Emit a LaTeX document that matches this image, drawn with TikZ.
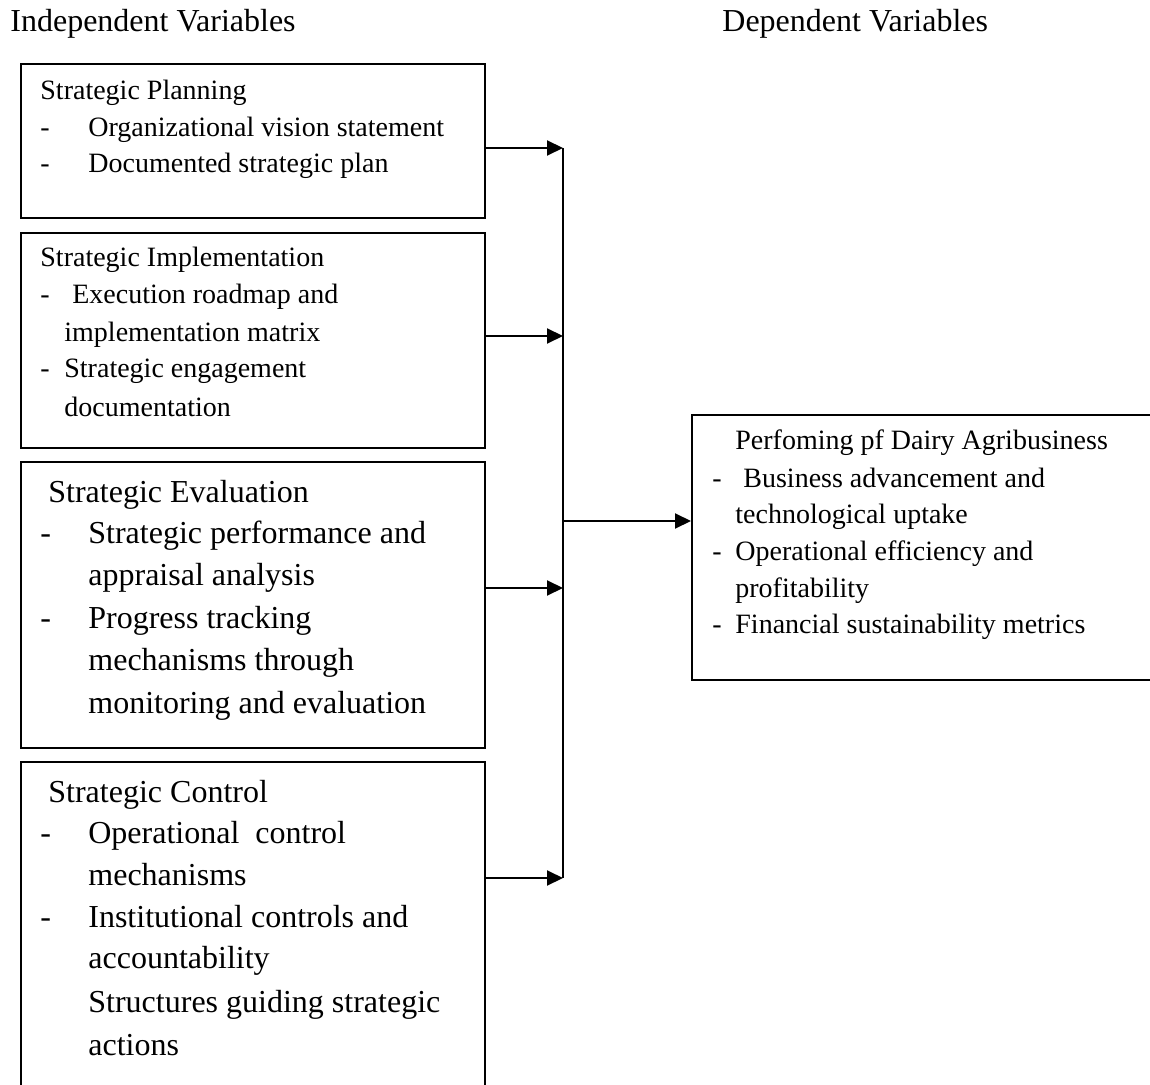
\documentclass[tikz,border=0pt]{standalone}
\usepackage{fontspec}
\setmainfont{Liberation Serif}
\usetikzlibrary{arrows.meta}
\tikzset{
  varbox/.style={draw, line width=0.8pt, anchor=north west, inner sep=0pt},
  txts/.style={anchor=base west, inner sep=0pt, font=\fontsize{14}{17}\selectfont},
  txtl/.style={anchor=base west, inner sep=0pt, font=\fontsize{16}{19}\selectfont},
  link/.style={line width=1pt, -{Triangle[length=8pt,width=7.5pt]}}
}

\begin{document}
\begin{tikzpicture}[x=0.5pt, y=-0.5pt]
	\useasboundingbox (0,0) rectangle (1150,1085);
	\clip (0,0) rectangle (1150,1085);
	% headings
	\node[txtl] (indep) at (10,32) {Independent Variables};
	\node[txtl] (dep) at (722,32) {Dependent Variables};
	% the boxes
	\node[varbox, minimum width=232pt, minimum height=77pt] (plan) at (20,63) {};
	\node[varbox, minimum width=232pt, minimum height=107.5pt] (impl) at (20,232) {};
	\node[varbox, minimum width=232pt, minimum height=143pt] (eval) at (20,461) {};
	\node[varbox, minimum width=232pt, minimum height=169.5pt] (ctrl) at (20,761) {};
	\node[varbox, minimum width=237pt, minimum height=132.5pt] (perf) at (691,414) {};
	% strategic planning
	\node[txts] (pl0) at (40,100) {Strategic Planning};
	\node[txts] (pl1) at (40,137) {\makebox[24pt][l]{-}Organizational vision statement};
	\node[txts] (pl2) at (40,173) {\makebox[24pt][l]{-}Documented strategic plan};
	% strategic implementation
	\node[txts] (im0) at (40,267) {Strategic Implementation};
	\node[txts] (im1) at (40,304) {\makebox[16pt][l]{-}Execution roadmap and};
	\node[txts] (im2) at (64,342) {implementation matrix};
	\node[txts] (im3) at (40,378) {\makebox[12pt][l]{-}Strategic engagement};
	\node[txts] (im4) at (64,416) {documentation};
	% strategic evaluation
	\node[txtl] (ev0) at (48,502) {Strategic Evaluation};
	\node[txtl] (ev1) at (40,543) {\makebox[24pt][l]{-}Strategic performance and};
	\node[txtl] (ev2) at (88,585) {appraisal analysis};
	\node[txtl] (ev3) at (40,628) {\makebox[24pt][l]{-}Progress tracking};
	\node[txtl] (ev4) at (88,670) {mechanisms through};
	\node[txtl] (ev5) at (88,713) {monitoring and evaluation};
	% strategic control
	\node[txtl] (co0) at (48,802) {Strategic Control};
	\node[txtl] (co1) at (40,843) {\makebox[24pt][l]{-}Operational\ \ control};
	\node[txtl] (co2) at (88,885) {mechanisms};
	\node[txtl] (co3) at (40,927) {\makebox[24pt][l]{-}Institutional controls and};
	\node[txtl] (co4) at (88,968) {accountability};
	\node[txtl] (co5) at (88,1012) {Structures guiding strategic};
	\node[txtl] (co6) at (88,1055) {actions};
	% performance
	\node[txts] (pf0) at (735,449) {Perfoming pf Dairy Agribusiness};
	\node[txts] (pf1) at (712,487) {\makebox[15.5pt][l]{-}Business advancement and};
	\node[txts] (pf2) at (735,523) {technological uptake};
	\node[txts] (pf3) at (712,560) {\makebox[11.5pt][l]{-}Operational efficiency and};
	\node[txts] (pf4) at (735,597) {profitability};
	\node[txts] (pf5) at (712,633) {\makebox[11.5pt][l]{-}Financial sustainability metrics};
	% arrows
	\coordinate (j1) at (563,148);
	\coordinate (j2) at (563,336);
	\coordinate (j3) at (563,588);
	\coordinate (j4) at (563,878);
	\coordinate (jo) at (563,521);
	\draw[line width=1pt] (j1) -- (j4);
	\draw[link] (plan.east |- j1) -- (j1);
	\draw[link] (impl.east |- j2) -- (j2);
	\draw[link] (eval.east |- j3) -- (j3);
	\draw[link] (ctrl.east |- j4) -- (j4);
	\draw[link] (jo) -- (perf.west |- jo);
\end{tikzpicture}
\end{document}
